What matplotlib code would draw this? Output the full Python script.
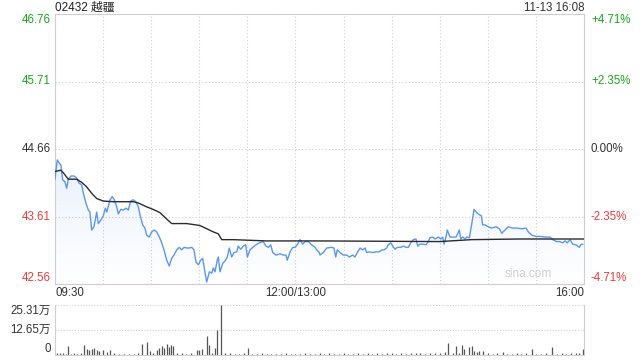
import matplotlib
matplotlib.use("Agg")
import matplotlib.pyplot as plt
import numpy as np

plt.rcParams['font.family'] = ['Liberation Sans', 'Noto Sans CJK SC', 'DejaVu Sans']

title = "02432 越疆"
stamp = "11-13 16:08"
prev_close = 44.66
price_ticks = [42.56, 43.61, 44.66, 45.71, 46.76]
pct_labels = ["-4.71%", "-2.35%", "0.00%", "+2.35%", "+4.71%"]
time_ticks = [0, 150, 330]
time_labels = ["09:30", "12:00/13:00", "16:00"]
vol_ticks = [0, 12.65, 25.31]
vol_labels = ["0", "12.65万", "25.31万"]

# minutes from 09:30 (lunch break removed) and price
minutes = [0, 1.4, 2.7, 3.7, 4.8, 6.2, 7.3, 8.3, 10, 11.9, 13.5, 15, 16.7, 17.7, 19.3,
           20.8, 21.8, 22.9, 24.3, 26, 27, 28.5, 30.1, 31.4, 32.3, 34.3, 35.7, 37, 38.5,
           39.5, 41, 42.6, 44.3, 45.7, 47.2, 48.8, 50.5, 52, 53, 54.7, 56.1, 57.2, 58.8,
           60.3, 61.8, 63.4, 65.1, 66.6, 68, 69.7, 71.3, 72.8, 74.2, 75.9, 77.5, 79, 80.5,
           82.2, 83.8, 85.3, 86.7, 88, 89.4, 90.9, 92.1, 93, 94.6, 96.3, 97.8, 98.8, 99.8,
           101.2, 101.9, 102.9, 104.6, 106.1, 107.5, 108.7, 110.2, 111.7, 113.4, 114.3,
           115.8, 117.5, 119, 120, 121.6, 123.3, 125.4, 127.4, 129.9, 131.6, 133.1, 134.6,
           135.8, 137.9, 140.4, 142.4, 144.1, 144.9, 146.6, 148.3, 149.7, 151.4, 152.8,
           154.5, 156, 158, 160.1, 162.2, 163.3, 164.9, 165.3, 167.4, 169.5, 172.6, 174,
           175.1, 176.1, 177.8, 179.9, 182, 183.6, 185.7, 187.1, 188.6, 190.3, 191.9, 193.4,
           194.4, 196.1, 198.2, 200.2, 202.3, 203.8, 205.2, 206.9, 207.9, 209.4, 210.7,
           212.1, 213.5, 215.7, 217.3, 219, 220.4, 221.9, 223.5, 225.2, 226.3, 227.7, 229.8,
           231.5, 232.9, 233.9, 235.6, 237.1, 239.1, 240.6, 241.9, 242.7, 243.9, 244.7,
           246.4, 248.5, 250.2, 252.2, 253.1, 254.4, 255.8, 256.9, 258.5, 260, 261.4, 263.1,
           264.7, 266, 266.8, 268.2, 270.3, 272.4, 275.1, 277.2, 278.7, 280.7, 282.8, 285.5,
           288, 291.1, 293.8, 295.3, 297.4, 300.1, 302.6, 305.7, 308.8, 310.5, 313, 315,
           316.7, 318.2, 319.6, 321.3, 323, 325, 327.1, 328, 329.2]
price = [44.19, 44.49, 44.44, 44.41, 44.18, 44.15, 44.05, 44.19, 44.24, 44.24, 44.21, 44.13,
         44.10, 43.97, 43.82, 43.71, 43.68, 43.40, 43.45, 43.68, 43.50, 43.55, 43.62, 43.74,
         43.68, 43.87, 43.92, 43.87, 43.76, 43.65, 43.72, 43.71, 43.74, 43.71, 43.85, 43.87,
         43.84, 43.76, 43.64, 43.48, 43.43, 43.32, 43.29, 43.37, 43.40, 43.37, 43.29, 43.20,
         43.09, 42.93, 42.84, 42.96, 43.01, 43.09, 43.13, 43.09, 43.13, 43.12, 43.12, 43.13,
         43.09, 42.90, 42.86, 42.93, 42.96, 42.83, 42.59, 42.75, 42.73, 42.81, 42.75, 42.93,
         42.98, 42.75, 42.88, 42.92, 42.98, 43.12, 42.98, 43.05, 43.06, 43.15, 43.10, 43.15,
         43.17, 42.98, 43.09, 43.13, 43.17, 43.20, 43.22, 43.15, 43.13, 43.17, 43.05, 43.01,
         43.03, 43.01, 43.01, 42.93, 43.06, 43.13, 43.13, 43.18, 43.25, 43.18, 43.22, 43.22,
         43.17, 43.13, 43.09, 43.05, 43.01, 43.05, 43.12, 43.13, 43.12, 42.98, 43.09, 43.05,
         43.01, 43.01, 42.98, 43.01, 42.98, 43.05, 43.12, 43.09, 43.12, 43.05, 43.06, 43.05,
         43.06, 43.06, 43.09, 43.09, 43.12, 43.17, 43.20, 43.15, 43.10, 43.13, 43.13, 43.15,
         43.13, 43.13, 43.20, 43.25, 43.26, 43.15, 43.18, 43.18, 43.17, 43.22, 43.28, 43.29,
         43.26, 43.29, 43.26, 43.29, 43.18, 43.29, 43.40, 43.29, 43.29, 43.29, 43.40, 43.26,
         43.29, 43.26, 43.29, 43.28, 43.50, 43.72, 43.67, 43.64, 43.62, 43.48, 43.48, 43.45,
         43.43, 43.45, 43.42, 43.35, 43.40, 43.45, 43.43, 43.43, 43.42, 43.43, 43.37, 43.32,
         43.30, 43.30, 43.29, 43.29, 43.25, 43.22, 43.22, 43.20, 43.23, 43.20, 43.25, 43.18,
         43.17, 43.13, 43.17, 43.18]

avg_minutes = [0, 3.5, 5.2, 8.3, 13.5, 16.7, 19.8, 22.9, 26, 30.1, 36.4, 48.8, 52, 57.2,
               61.3, 65.5, 69.7, 72.8, 82.2, 90.4, 94.6, 98.8, 101.9, 104, 111.2, 132, 165,
               240, 260, 290, 330]
avg_price = [44.31, 44.33, 44.29, 44.19, 44.19, 44.14, 44.07, 43.97, 43.89, 43.85, 43.84,
             43.84, 43.82, 43.76, 43.72, 43.67, 43.57, 43.50, 43.50, 43.47, 43.42, 43.37,
             43.34, 43.25, 43.25, 43.23, 43.23, 43.22, 43.25, 43.26, 43.26]

# volume in 万 shares
vol_minutes = [1, 3, 5, 7, 8.3, 10, 12, 14, 16, 18.3, 20.1, 21.4, 22.9, 24.5, 26, 27.6,
               30.1, 32.3, 34.5, 37, 40, 43, 46, 49, 52, 54.5, 57.6, 59.3, 61, 63.4, 64.9,
               66.6, 68, 69.7, 70.9, 72.2, 73.4, 76, 79, 82, 85, 88.4, 89.8, 91.5, 94.6,
               96.1, 98, 99.6, 100.9, 103.4, 106, 109, 112, 115, 118, 120.6, 123, 126, 129,
               132, 135, 138, 141, 144, 147, 150, 153, 156, 159, 162, 165, 168, 171, 174,
               177, 180, 183, 186, 189, 192, 195, 198, 201, 204, 207, 210, 213, 216, 219,
               222, 225, 228, 231, 234, 237, 240, 243, 245.4, 248, 250.2, 252, 253.7, 255.1,
               258.5, 260, 261.4, 263.1, 264.7, 267.2, 270, 273, 276, 279.3, 282, 285, 288,
               291, 294, 297.4, 300, 303, 306, 310.2, 313, 316, 319, 322, 325, 327, 329.6]
vol_values = [0.8, 1.0, 1.2, 0.7, 4.6, 0.6, 0.8, 0.5, 0.9, 5.0, 3.0, 2.5, 3.0, 3.3, 2.5, 2.0,
              2.5, 1.7, 2.5, 0.8, 0.6, 0.5, 0.7, 0.6, 0.9, 5.5, 6.6, 2.0, 1.2, 2.5, 3.3,
              4.6, 3.6, 5.6, 4.1, 5.0, 4.5, 1.0, 0.8, 0.6, 0.9, 2.5, 2.5, 3.0, 9.4,
              5.0, 1.2, 3.3, 12.9, 25.31, 1.0, 0.8, 0.6, 0.7, 0.9, 3.6, 0.7, 0.5, 0.8,
              0.6, 0.7, 0.5, 0.6, 0.8, 0.5, 0.7, 0.6, 0.8, 0.5, 0.7, 0.9, 0.6, 0.8, 0.7,
              0.5, 0.9, 0.6, 0.7, 0.8, 0.6, 1.0, 0.7, 0.8, 0.6, 0.9, 1.1, 0.7, 0.8, 0.6,
              1.0, 0.8, 1.2, 0.7, 0.9, 1.1, 0.8, 1.3, 6.3, 1.0, 4.5, 1.2, 5.0, 2.8,
              4.1, 4.5, 2.1, 1.6, 2.1, 2.0, 0.8, 0.6, 0.9, 1.6, 0.7, 0.5, 0.8,
              0.6, 0.9, 2.8, 0.7, 0.6, 0.8, 3.8, 0.7, 0.9, 0.6, 1.0, 0.8, 1.2, 2.8]

GREEN = "#1aa81a"
RED = "#f03a3a"
GRID = "#cfcfcf"
TXT = "#333333"

fig = plt.figure(figsize=(6.4, 3.6), dpi=100)
ax = fig.add_axes([55 / 640, 1 - 284 / 360, 529 / 640, 270 / 360])
axv = fig.add_axes([55 / 640, 1 - 355 / 360, 529 / 640, 50 / 360])

# price panel
ax.set_xlim(0, 330)
ax.set_ylim(price_ticks[0], price_ticks[-1])
ax.plot(minutes, price, color="#5b96f2", lw=1.0, zorder=3)
ax.plot(avg_minutes, avg_price, color="#2b2b2b", lw=1.0, zorder=4)

# light gradient under the price line
poly = ax.fill_between(minutes, price, price_ticks[0], color="none")
grad = np.linspace(0.13, 0.0, 256).reshape(-1, 1)
rgba = np.zeros((256, 1, 4))
rgba[..., 0] = 0.36
rgba[..., 1] = 0.59
rgba[..., 2] = 0.95
rgba[..., 3] = grad
img = ax.imshow(rgba, extent=[0, 330, price_ticks[0], max(price)], aspect="auto",
                origin="upper", zorder=2)
img.set_clip_path(poly.get_paths()[0], transform=ax.transData)

ax.set_xticks(np.arange(0, 331, 30))
ax.set_yticks(price_ticks)
ax.grid(True, color=GRID, linestyle=(0, (1, 2)), lw=0.8)
ax.tick_params(length=0, labelsize=8.3, pad=3)
ax.set_xticklabels([])
ax.set_yticklabels([f"{v:.2f}" for v in price_ticks])
ycols = [RED, RED, TXT, GREEN, GREEN]
for lab, c, va in zip(ax.get_yticklabels(), ycols,
                      ["bottom", "center", "center", "center", "top"]):
    lab.set_color(c)
    lab.set_va(va)
for s in ax.spines.values():
    s.set_color(GRID)

axr = ax.twinx()
axr.set_ylim(ax.get_ylim())
axr.set_yticks(price_ticks)
axr.set_yticklabels(pct_labels)
axr.tick_params(length=0, labelsize=8.3, pad=5)
for lab, c, va in zip(axr.get_yticklabels(), ycols,
                      ["bottom", "center", "center", "center", "top"]):
    lab.set_color(c)
    lab.set_va(va)
for s in axr.spines.values():
    s.set_visible(False)

for t, lab, ha in zip(time_ticks, time_labels, ["left", "center", "right"]):
    ax.text(t, -0.012, lab, transform=ax.get_xaxis_transform(), ha=ha, va="top",
            fontsize=8.3, color=TXT)

ax.text(0.94, 0.015, "sina.com", transform=ax.transAxes, ha="right", va="bottom",
        fontsize=8.5, color="#d0d0d0")
fig.text(55 / 640, 1 - 8 / 360, title, ha="left", va="center", fontsize=8.5, color="#222222")
fig.text(584 / 640, 1 - 8 / 360, stamp, ha="right", va="center", fontsize=8.3, color="#333333")

# volume panel
axv.set_xlim(0, 330)
axv.set_ylim(0, vol_ticks[-1])
axv.vlines(vol_minutes, 0, vol_values, color="#555555", lw=0.9)
axv.set_xticks([])
axv.set_yticks(vol_ticks)
axv.set_yticklabels(vol_labels)
axv.yaxis.grid(True, color=GRID, linestyle=(0, (1, 1.5)), lw=0.8)
axv.tick_params(length=0, labelsize=8.3, pad=3, labelcolor=TXT)
for lab, va in zip(axv.get_yticklabels(), ["bottom", "center", "top"]):
    lab.set_va(va)
for name, s in axv.spines.items():
    s.set_color(GRID)
axv.spines["top"].set_visible(False)

fig.savefig("out.png", dpi=100)
